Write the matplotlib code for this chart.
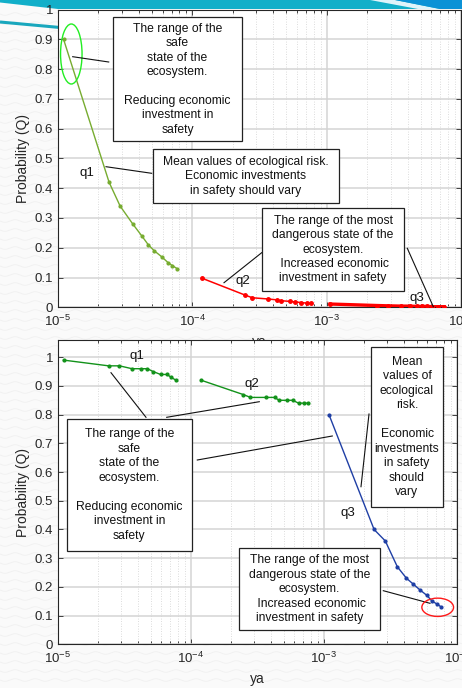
import numpy as np
import matplotlib
matplotlib.use("Agg")
import matplotlib.pyplot as plt
import matplotlib.transforms as mtransforms
from matplotlib.patches import Rectangle, Ellipse, Polygon
from matplotlib.ticker import LogLocator, FixedLocator, FuncFormatter, NullFormatter

plt.rcParams['font.family'] = ['Liberation Sans', 'DejaVu Sans']
plt.rcParams['mathtext.fontset'] = 'custom'
plt.rcParams['mathtext.rm'] = 'Liberation Sans'
plt.rcParams['mathtext.it'] = 'Liberation Sans:italic'

# ---- data -------------------------------------------------------------
x_q1 = [1.1e-5, 2.4e-5, 2.9e-5, 3.6e-5, 4.2e-5, 4.7e-5, 5.2e-5, 5.9e-5, 6.6e-5, 7.1e-5, 7.7e-5]
x_q2 = [1.19e-4, 2.47e-4, 2.8e-4, 3.65e-4, 4.25e-4, 4.6e-4, 5.3e-4, 5.8e-4, 6.45e-4, 7.1e-4, 7.6e-4]
x_q3_top = [1.06e-3, 2.36e-3, 2.84e-3, 3.6e-3, 4.16e-3, 4.68e-3, 5.15e-3, 5.6e-3, 6.1e-3, 6.7e-3, 7.5e-3]
x_q3_bot = [1.09e-3, 2.38e-3, 2.89e-3, 3.56e-3, 4.17e-3, 4.68e-3, 5.25e-3, 5.95e-3, 6.5e-3, 7.1e-3, 7.6e-3]

top_q1 = [0.90, 0.42, 0.34, 0.28, 0.24, 0.21, 0.19, 0.17, 0.15, 0.14, 0.13]
top_q2 = [0.097, 0.041, 0.032, 0.028, 0.025, 0.022, 0.020, 0.018, 0.016, 0.014, 0.013]
top_q3 = [0.011, 0.006, 0.005, 0.004, 0.004, 0.003, 0.003, 0.003, 0.002, 0.002, 0.002]

bot_q1 = [0.99, 0.97, 0.97, 0.96, 0.96, 0.96, 0.95, 0.94, 0.94, 0.93, 0.92]
bot_q2 = [0.92, 0.87, 0.86, 0.86, 0.86, 0.85, 0.85, 0.85, 0.84, 0.84, 0.84]
bot_q3 = [0.80, 0.40, 0.36, 0.27, 0.23, 0.21, 0.19, 0.17, 0.15, 0.14, 0.13]

y_ticks = [0, 0.1, 0.2, 0.3, 0.4, 0.5, 0.6, 0.7, 0.8, 0.9, 1.0]

txt_safe = "The range of the\nsafe\nstate of the\necosystem.\n\nReducing economic\ninvestment in\nsafety"
txt_mean_top = "Mean values of ecological risk.\nEconomic investments\nin safety should vary"
txt_mean_bot = "Mean\nvalues of\necological\nrisk.\n\nEconomic\ninvestments\nin safety\nshould\nvary"
txt_danger = "The range of the most\ndangerous state of the\necosystem.\n Increased economic\ninvestment in safety"

# ---- figure -----------------------------------------------------------
W, H = 462, 688
fig = plt.figure(figsize=(W / 100, H / 100), dpi=100, facecolor='#fafafa')
# pixel coordinates measured from the top-left corner
px = mtransforms.Affine2D().scale(1 / W, -1 / H).translate(0, 1) + fig.transFigure

# slide background: faint waves and the teal banner
bg = fig.add_axes([0, 0, 1, 1], zorder=-10)
bg.set_xlim(0, W)
bg.set_ylim(H, 0)
bg.axis('off')
xs = np.linspace(0, W, 600)
for y0 in np.arange(14, H, 9):
    bg.plot(xs, y0 + 1.3 * np.sin(xs / 3.2), color='#f0f0f0', lw=0.6, zorder=1)
bg.add_patch(Polygon([(0, 0), (470, 0), (470, 9), (58, 9), (0, 2.5)], closed=True,
                     facecolor='#12afc9', edgecolor='none', zorder=3))
bg.add_patch(Polygon([(370, 0), (395, 0), (440, 9), (418, 9)], closed=True,
                     facecolor='#dff4fa', edgecolor='none', zorder=3))
bg.add_patch(Polygon([(395, 0), (470, 0), (470, 9), (440, 9)], closed=True,
                     facecolor='#0b92d6', edgecolor='none', zorder=3))
bg.plot([0, 60], [22, 27.5], color='#19a7bd', lw=2.2, solid_capstyle='butt', zorder=3)


def style_axes(ax, ytop):
    ax.set_xscale('log')
    ax.set_xlim(1e-5, 1e-2)
    ax.set_ylim(0, ytop)
    ax.yaxis.set_major_locator(FixedLocator(y_ticks))
    ax.yaxis.set_major_formatter(FuncFormatter(lambda v, p: '%g' % round(v, 2)))
    ax.xaxis.set_major_locator(LogLocator(base=10, numticks=10))
    ax.xaxis.set_minor_locator(LogLocator(base=10, subs=np.arange(2, 10), numticks=20))
    ax.xaxis.set_minor_formatter(NullFormatter())
    ax.tick_params(which='both', direction='in', top=True, right=True, labelsize=9.5,
                   colors='#262626', width=0.6)
    ax.tick_params(which='major', length=3.5)
    ax.tick_params(which='minor', length=2)
    ax.tick_params(axis='x', pad=5)
    ax.grid(True, which='major', color='#d4d4d4', lw=1.1)
    ax.grid(True, which='minor', axis='x', color='#d0d0d0', lw=0.6, ls=(0, (1, 2)))
    ax.set_axisbelow(True)
    for s in ax.spines.values():
        s.set_color('#262626')
        s.set_linewidth(0.8)
    ax.set_ylabel('Probability (Q)', fontsize=10, color='#262626', labelpad=3)
    ax.set_xlabel('ya', fontsize=10, color='#262626', labelpad=4)


def box(ax, x0, y0, x1, y1, text, fs=8.7):
    ax.add_patch(Rectangle((x0, y0), x1 - x0, y1 - y0, transform=px, facecolor='white',
                           edgecolor='#222222', lw=0.9, clip_on=False, zorder=5))
    ax.text((x0 + x1) / 2, (y0 + y1) / 2, text, transform=px, ha='center', va='center',
            multialignment='center', fontsize=fs, color='#111111', linespacing=1.27,
            zorder=6, clip_on=False)


def leader(ax, x0, y0, x1, y1):
    ax.plot([x0, x1], [y0, y1], transform=px, color='#111111', lw=0.8, clip_on=False, zorder=4)


def label(ax, x, y, s):
    ax.text(x, y, s, transform=px, ha='center', va='center', fontsize=9.5,
            color='#111111', zorder=6)


# ---- upper panel ------------------------------------------------------
ax1 = fig.add_axes([58 / W, 1 - 307.3 / H, 403 / W, 297.8 / H])
style_axes(ax1, 1.0)
ax1.plot(x_q1, top_q1, '.-', color='#77ac30', lw=1.0, ms=4, zorder=3)
ax1.plot(x_q2, top_q2, '.-', color='#ff0000', lw=1.1, ms=5, zorder=3)
ax1.plot(x_q3_top, top_q3, '.-', color='#ff0000', lw=2.4, ms=5, zorder=3)

ax1.add_patch(Ellipse((71.3, 54), 21.5, 60, transform=px, facecolor='none',
                      edgecolor='#22ee22', lw=1.0, zorder=4))
leader(ax1, 72.7, 56.7, 108.7, 62)
box(ax1, 113.3, 17.3, 241.7, 141, txt_safe)
label(ax1, 86.7, 172.7, 'q1')
leader(ax1, 106, 166.7, 151.7, 173.3)
box(ax1, 153.3, 149.3, 338.7, 203, txt_mean_top)
box(ax1, 261.7, 208.3, 404.3, 290.7, txt_danger)
leader(ax1, 224, 282.7, 261.7, 252.7)
label(ax1, 242.7, 281, 'q2')
leader(ax1, 407.3, 248.3, 433.3, 306.7)
label(ax1, 416.7, 297.7, 'q3')

# ---- lower panel ------------------------------------------------------
ax2 = fig.add_axes([58 / W, 1 - 644.3 / H, 399 / W, 304.3 / H])
style_axes(ax2, 1.06)
ax2.plot(x_q1, bot_q1, '.-', color='#12921a', lw=1.0, ms=4, zorder=3)
ax2.plot(x_q2, bot_q2, '.-', color='#12921a', lw=1.0, ms=4, zorder=3)
ax2.plot(x_q3_bot, bot_q3, '.-', color='#1f3fa5', lw=1.0, ms=4, zorder=3)

label(ax2, 136.7, 355.7, 'q1')
label(ax2, 251.7, 384, 'q2')
leader(ax2, 111, 372.7, 146, 417.3)
leader(ax2, 166.7, 417.3, 259.3, 401.7)
box(ax2, 66.7, 419.3, 191.7, 550.7, txt_safe)
leader(ax2, 197.3, 460, 332.3, 436)
box(ax2, 370.7, 346.7, 443.3, 507.3, txt_mean_bot)
leader(ax2, 361, 486.7, 369, 414)
label(ax2, 348.3, 512.7, 'q3')
box(ax2, 239, 548.3, 380, 630, txt_danger)
leader(ax2, 383.3, 590.7, 430, 603.3)
ax2.add_patch(Ellipse((437.7, 607.3), 31.7, 18.3, transform=px, facecolor='none',
                      edgecolor='#ff1a1a', lw=1.0, zorder=4, clip_on=False))

fig.savefig('out.png', dpi=100, facecolor=fig.get_facecolor())
